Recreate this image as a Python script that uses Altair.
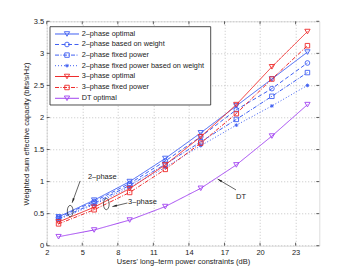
import altair as alt
import pandas as pd

# ---------------- data ----------------
x_vals = [3, 6, 9, 12, 15, 18, 21, 24]
two_opt = [0.45, 0.71, 1.00, 1.36, 1.76, 2.18, 2.60, 3.02]
two_weight = [0.44, 0.69, 0.97, 1.32, 1.70, 2.12, 2.45, 2.85]
two_fixed = [0.42, 0.66, 0.94, 1.27, 1.62, 1.97, 2.33, 2.70]
two_fixed_weight = [0.41, 0.64, 0.91, 1.22, 1.56, 1.88, 2.18, 2.50]
three_opt = [0.37, 0.60, 0.89, 1.26, 1.70, 2.20, 2.79, 3.34]
three_fixed = [0.34, 0.56, 0.83, 1.19, 1.60, 2.06, 2.60, 3.12]
dt_opt = [0.14, 0.245, 0.40, 0.61, 0.895, 1.26, 1.71, 2.20]

series_names = [
    "2–phase optimal",
    "2–phase based on weight",
    "2–phase fixed power",
    "2–phase fixed power based on weight",
    "3–phase optimal",
    "3–phase fixed power",
    "DT optimal",
]
series_values = [two_opt, two_weight, two_fixed, two_fixed_weight, three_opt, three_fixed, dt_opt]

x_ticks = [2, 5, 8, 11, 14, 17, 20, 23]
y_ticks = [0, 0.5, 1, 1.5, 2, 2.5, 3, 3.5]

# annotations (data coordinates)
ann_text = ["2–phase", "3–phase", "DT"]
ann_tx = [6.69, 10.08, 18.4]
ann_ty = [1.07, 0.68, 0.76]
arr_x1 = [4.82, 8.81, 17.97]
arr_y1 = [1.01, 0.666, 0.87]
arr_x2 = [4.15, 7.54, 16.42]
arr_y2 = [0.67, 0.61, 1.04]
ell_x = [3.98, 7.03]
ell_y = [0.54, 0.65]

# ---------------- styles ----------------
BLUE = "#3f5ff2"
RED = "#ee2a2a"
PURPLE = "#a244f0"
TRI = "triangle-down"
ASTER = "M-1,0L1,0M0,-1L0,1M-0.7,-0.7L0.7,0.7M-0.7,0.7L0.7,-0.7"
styles = [
    dict(color=BLUE, dash=[1, 0], shape=TRI, size=28),
    dict(color=BLUE, dash=[4, 2.5], shape="circle", size=22),
    dict(color=BLUE, dash=[4, 1.5, 1, 1.5], shape="square", size=20),
    dict(color=BLUE, dash=[1, 2], shape=ASTER, size=14),
    dict(color=RED, dash=[1, 0], shape=TRI, size=28),
    dict(color=RED, dash=[4, 1.5, 1, 1.5], shape="square", size=20),
    dict(color=PURPLE, dash=[1, 0], shape=TRI, size=28),
]

W, H = 272.6, 224.4
FONT = "Liberation Sans"

rows = []
for name, vals in zip(series_names, series_values):
    for xv, yv in zip(x_vals, vals):
        rows.append({"series": name, "x": xv, "y": yv})
df = pd.DataFrame(rows)

xscale = alt.Scale(domain=[2, 25], nice=False, zero=False)
yscale = alt.Scale(domain=[0, 3.5], nice=False)

x_axis = alt.Axis(values=x_ticks, title="Users' long–term power constraints (dB)",
                  grid=True, gridDash=[1, 2], gridColor="#b8b8b8", gridWidth=0.8,
                  domain=False, ticks=False, labelPadding=3, labelFontSize=7.5,
                  labelOverlap=False, labelFlush=False,
                  labelFont=FONT, titleFont=FONT, titleFontSize=7.5,
                  titleFontWeight="normal", titleY=16.3, titleBaseline="middle",
                  labelColor="#222", titleColor="#222")
y_axis = alt.Axis(values=y_ticks, format="~g",
                  title="Weighted sum effective capacity (bits/s/Hz)",
                  grid=True, gridDash=[1, 2], gridColor="#b8b8b8", gridWidth=0.8,
                  domain=False, ticks=False, labelPadding=3, labelFontSize=7.5,
                  labelOverlap=False, labelFlush=False,
                  labelFont=FONT, titleFont=FONT, titleFontSize=7.5,
                  titleFontWeight="normal", titleX=-20, titleY=H / 2,
                  titleAngle=-90, titleBaseline="middle", titleAlign="center",
                  labelColor="#222", titleColor="#222")


def X(field):
    return alt.X(field, scale=xscale, axis=x_axis)


def Y(field):
    return alt.Y(field, scale=yscale, axis=y_axis)


base = alt.Chart(df)

layers = []

# inward ticks
xt = pd.DataFrame({"t": x_ticks})
yt = pd.DataFrame({"t": y_ticks})
tick_color = "#222"
layers.append(alt.Chart(xt).mark_rule(color=tick_color, strokeWidth=0.7).encode(
    x=X("t:Q"), y=alt.value(H), y2=alt.value(H - 3)))
layers.append(alt.Chart(xt).mark_rule(color=tick_color, strokeWidth=0.7).encode(
    x=X("t:Q"), y=alt.value(0), y2=alt.value(3)))
layers.append(alt.Chart(yt).mark_rule(color=tick_color, strokeWidth=0.7).encode(
    y=Y("t:Q"), x=alt.value(0), x2=alt.value(3)))
layers.append(alt.Chart(yt).mark_rule(color=tick_color, strokeWidth=0.7).encode(
    y=Y("t:Q"), x=alt.value(W), x2=alt.value(W - 3)))

# data series
for name, st in zip(series_names, styles):
    sub = base.transform_filter(alt.datum.series == name)
    layers.append(sub.mark_line(color=st["color"], strokeDash=st["dash"], strokeWidth=1).encode(
        x=X("x:Q"), y=Y("y:Q")))
    layers.append(sub.mark_point(color=st["color"], shape=st["shape"], size=st["size"],
                                 filled=False, strokeWidth=0.9, opacity=1).encode(
        x=X("x:Q"), y=Y("y:Q")))

# annotations
ann_df = pd.DataFrame({"text": ann_text, "tx": ann_tx, "ty": ann_ty,
                       "x1": arr_x1, "y1": arr_y1, "x2": arr_x2, "y2": arr_y2,
                       "ang": [200, 256, 300]})
layers.append(alt.Chart(ann_df).mark_text(font=FONT, fontSize=7.5, color="#222").encode(
    x=X("tx:Q"), y=Y("ty:Q"), text="text:N"))
layers.append(alt.Chart(ann_df).mark_rule(color="#222", strokeWidth=0.7).encode(
    x=X("x1:Q"), y=Y("y1:Q"), x2="x2:Q", y2="y2:Q"))
ARROW = "M0,0L0.38,1.7L-0.38,1.7Z"
layers.append(alt.Chart(ann_df).mark_point(shape=ARROW, filled=True, color="#222", size=30,
                                           opacity=1).encode(
    x=X("x2:Q"), y=Y("y2:Q"), angle=alt.Angle("ang:Q", scale=None)))
ell_df = pd.DataFrame({"ex": ell_x, "ey": ell_y})
layers.append(alt.Chart(ell_df).mark_point(
    shape="M0,-1A0.5,1,0,1,1,0,1A0.5,1,0,1,1,0,-1Z", filled=False, color="#222",
    size=130, strokeWidth=0.7, opacity=1).encode(x=X("ex:Q"), y=Y("ey:Q")))

# legend (drawn box)
one = pd.DataFrame({"a": [0]})
LX0, LX1, LY0, LY1 = 3.3, 164.0, 5.4, 83.7
layers.append(alt.Chart(one).mark_rect(fill="white", stroke="#222", strokeWidth=0.8).encode(
    x=alt.value(LX0), x2=alt.value(LX1), y=alt.value(LY0), y2=alt.value(LY1)))
row_y = [12.7, 23.2, 33.8, 44.4, 55.2, 66.2, 77.0]
for name, st, ry in zip(series_names, styles, row_y):
    layers.append(alt.Chart(one).mark_rule(color=st["color"], strokeDash=st["dash"],
                                           strokeWidth=1).encode(
        x=alt.value(8.3), x2=alt.value(32.3), y=alt.value(ry)))
    layers.append(alt.Chart(one).mark_point(color=st["color"], shape=st["shape"], size=st["size"],
                                            filled=False, strokeWidth=0.9, opacity=1).encode(
        x=alt.value(20.3), y=alt.value(ry)))
    layers.append(alt.Chart(one).mark_text(text=name, font=FONT, fontSize=7.3, align="left",
                                           baseline="middle", color="#222").encode(
        x=alt.value(35), y=alt.value(ry)))

chart = alt.layer(*layers).properties(
    width=W, height=H,
    autosize=alt.AutoSizeParams(type="none"),
    padding={"left": 38.7, "top": 13.3, "right": 24, "bottom": 22},
).configure_view(stroke="#222", strokeWidth=0.8).configure(background="white")

chart.save("out.html", embed_options={"renderer": "svg", "actions": False})
